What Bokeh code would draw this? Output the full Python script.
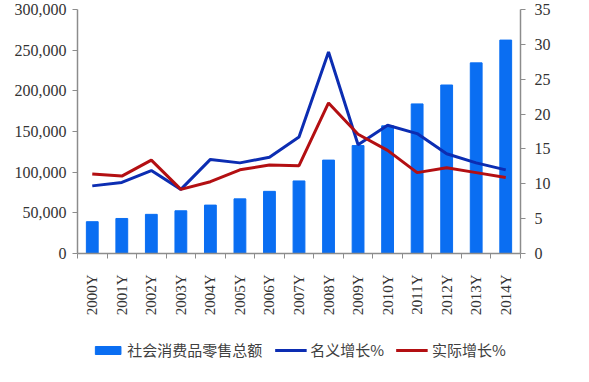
import math
from bokeh.plotting import figure
from bokeh.layouts import column
from bokeh.models import (Range1d, LinearAxis, FixedTicker, NumeralTickFormatter,
                          Legend, LegendItem, ColumnDataSource)
from bokeh.embed import file_html
from bokeh.resources import INLINE

years = ["2000Y", "2001Y", "2002Y", "2003Y", "2004Y", "2005Y", "2006Y", "2007Y",
         "2008Y", "2009Y", "2010Y", "2011Y", "2012Y", "2013Y", "2014Y"]
retail_total = [39106, 43055, 48136, 52516, 59501, 67177, 76410, 89210,
                114830, 132678, 156998, 183919, 207167, 234380, 262394]
nominal_growth = [9.7, 10.2, 11.9, 9.2, 13.5, 13.0, 13.8, 16.7,
                  28.9, 15.6, 18.4, 17.2, 14.3, 13.0, 12.0]
real_growth = [11.4, 11.1, 13.4, 9.2, 10.3, 12.0, 12.7, 12.6,
               21.6, 17.1, 14.8, 11.6, 12.3, 11.6, 10.9]
left_ticks = [0, 50000, 100000, 150000, 200000, 250000, 300000]
right_ticks = [0, 5, 10, 15, 20, 25, 30, 35]
series_names = ["社会消费品零售总额", "名义增长%", "实际增长%"]

xs = list(range(len(years)))
src = ColumnDataSource(dict(x=xs, total=retail_total, nom=nominal_growth, real=real_growth))

bar_color = "#0a6ef2"
nom_color = "#0c2db2"
real_color = "#b30f12"
axis_color = "#8c8c8c"
label_color = "#333333"
serif = "Liberation Serif"

p = figure(frame_width=443, frame_height=244, output_backend="svg", toolbar_location=None,
           x_axis_type=None, y_axis_type=None,
           x_range=Range1d(-0.5, len(years) - 0.5), y_range=Range1d(0, 300000),
           min_border_left=77, min_border_right=53, min_border_top=9, min_border_bottom=0)
p.outline_line_color = None
p.extra_y_ranges = {"pct": Range1d(0, 35)}

p.vbar(x="x", top="total", width=0.4, source=src, color=bar_color)
p.line(x="x", y="nom", source=src, y_range_name="pct", line_color=nom_color, line_width=3)
p.line(x="x", y="real", source=src, y_range_name="pct", line_color=real_color, line_width=3)

la = LinearAxis(ticker=FixedTicker(ticks=left_ticks), formatter=NumeralTickFormatter(format="0,0"))
ba = LinearAxis(ticker=FixedTicker(ticks=xs, minor_ticks=[i - 0.5 for i in range(len(years) + 1)]),
                major_label_overrides={i: y for i, y in enumerate(years)})
ba.major_tick_out = 0
ba.major_tick_in = 0
ba.minor_tick_out = 5
ba.minor_tick_in = 0
ba.major_label_orientation = math.pi / 2
ba.major_label_standoff = 16
ra = LinearAxis(y_range_name="pct", ticker=FixedTicker(ticks=right_ticks))

for ax in (la, ba, ra):
    ax.axis_line_color = axis_color
    ax.axis_line_width = 1.5
    ax.major_label_text_font = serif
    ax.major_label_text_font_size = "16px"
    ax.major_label_text_color = label_color
    ax.minor_tick_line_color = axis_color if ax is ba else None
ba.major_label_text_font_size = "15px"
for ax in (la, ra):
    ax.major_tick_line_color = axis_color
    ax.major_tick_out = 5
    ax.major_tick_in = 0
la.major_label_standoff = 6
ra.major_label_standoff = 9

p.add_layout(la, "left")
p.add_layout(ra, "right")
p.add_layout(ba, "below")

# legend strip: hidden copies of the series, only their legend entries are shown
lf = figure(width=573, height=46, output_backend="svg", toolbar_location=None,
            x_axis_type=None, y_axis_type=None,
            x_range=Range1d(-0.5, len(years) - 0.5), y_range=Range1d(0, 300000),
            min_border=0)
lf.outline_line_color = None
lb = lf.vbar(x="x", top="total", width=0.4, source=src, color=bar_color, visible=False)
ln = lf.line(x="x", y="nom", source=src, line_color=nom_color, line_width=3, visible=False)
lr = lf.line(x="x", y="real", source=src, line_color=real_color, line_width=3, visible=False)

legend = Legend(items=[
    LegendItem(label=series_names[0], renderers=[lb]),
    LegendItem(label=series_names[1], renderers=[ln]),
    LegendItem(label=series_names[2], renderers=[lr]),
], orientation="horizontal", location="bottom_center")
legend.label_text_font = "Noto Sans CJK SC"
legend.label_text_font_size = "15px"
legend.label_text_color = "#404040"
legend.glyph_width = 32
legend.glyph_height = 10
legend.label_standoff = 4
legend.spacing = 12
legend.border_line_color = None
legend.background_fill_alpha = 0
legend.inactive_fill_alpha = 0
legend.padding = 2
legend.margin = 4
lf.add_layout(legend, "center")

open("out.html", "w").write(file_html(column(p, lf, spacing=0), INLINE))
